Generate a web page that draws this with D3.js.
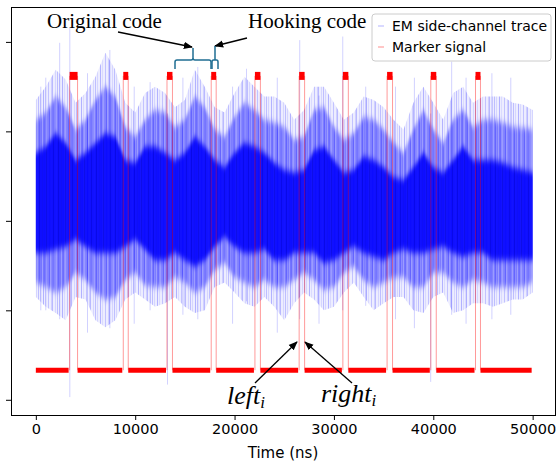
<!DOCTYPE html>
<html>
<head>
<meta charset="utf-8">
<script src="https://cdn.jsdelivr.net/npm/d3@7"></script>
<style>
  body { margin: 0; background: #fff; }
  svg { display: block; }
</style>
</head>
<body>
<div id="chart"></div>
<script>
// sample times of the trace envelope (ns), one every 1000 ns
var traceTimes = d3.range(0, 50001, 1000);
// envelope of the EM trace (arbitrary amplitude units)
var outerTop = [135,150,169,158,132,143,161,188,169,132,121,143,150,143,127,135,169,150,127,121,143,161,150,139,139,132,113,124,150,150,132,113,121,139,135,127,113,102,132,150,132,113,143,150,132,139,139,139,132,130,124];
var midTop = [113,121,139,127,102,113,135,150,139,105,94,113,124,121,105,113,139,127,102,94,116,132,124,113,110,105,91,94,124,127,105,91,98,116,113,102,87,76,102,124,102,87,113,124,105,113,113,110,105,104,102];
var coreTop = [76,83,98,87,68,76,87,98,94,68,65,83,83,76,68,76,94,83,68,60,76,87,83,76,65,57,54,57,79,83,68,54,57,72,68,60,49,46,60,76,60,54,68,83,68,68,68,65,60,57,54];
var coreBot = [-36,-36,-32,-29,-21,-29,-36,-36,-36,-29,-21,-32,-44,-44,-36,-44,-51,-44,-29,-18,-29,-36,-36,-32,-44,-44,-36,-36,-36,-47,-44,-36,-29,-36,-40,-44,-36,-32,-36,-36,-32,-29,-36,-40,-36,-36,-44,-44,-44,-44,-44];
var midBot = [-69,-74,-80,-74,-58,-66,-80,-88,-85,-66,-58,-72,-74,-74,-63,-69,-80,-74,-55,-47,-63,-69,-74,-66,-74,-74,-66,-58,-66,-77,-74,-58,-51,-66,-74,-69,-63,-63,-74,-74,-58,-58,-69,-74,-66,-69,-74,-74,-74,-74,-69];
var outerBot = [-85,-96,-103,-111,-85,-88,-111,-119,-111,-88,-80,-88,-96,-92,-85,-96,-103,-100,-74,-69,-80,-92,-96,-85,-96,-111,-92,-80,-88,-100,-96,-80,-69,-85,-100,-92,-85,-85,-100,-103,-85,-80,-103,-100,-92,-92,-96,-92,-88,-88,-80];
// isolated spikes of the trace
var spikeTimes = [500, 1000, 2400, 3420, 5200, 7450, 9900, 11500, 13250, 14800, 16300, 19800, 21200, 24300, 26560, 28500, 30890, 33200, 36200, 38100, 39740, 41850, 43300, 45900, 47800];
var spikeHigh = [150, 160, 199, 216, 165, 191, 150, 155, 120, 160, 172, 150, 170, 160, 202, 140, 206, 150, 150, 160, 120, 178, 160, 165, 160];
var spikeLow = [-100, -100, -110, -197, -125, -120, -115, -100, -183, -105, -110, -115, -90, -125, -110, -115, -100, -95, -110, -120, -180, -105, -115, -110, -105];

// marker signal
var markerLow = -167;
var markerHigh = 162;
var pulseStart = [3400, 8800, 13200, 17650, 22050, 26500, 30900, 35350, 39750, 44250];
var pulseEnd = [4200, 9300, 13750, 18150, 22600, 27050, 31450, 35900, 40300, 44750];

var xTicks = [0, 10000, 20000, 30000, 40000, 50000];
var yTicks = [-200, -100, 0, 100, 200];

var W = 557, H = 464;
var svg = d3.select("#chart").append("svg")
  .attr("width", W).attr("height", H)
  .style("font-family", "'DejaVu Sans', sans-serif");
var defs = svg.append("defs");

var x = d3.scaleLinear().domain([-2500, 52250]).range([11, 555]);
var y = d3.scaleLinear().domain([-217, 239]).range([415, 7]);

// vertical hair-line textures so the bands look like a dense trace
function hairPattern(id, base, baseOp, lines) {
  var p = defs.append("pattern").attr("id", id).attr("patternUnits", "userSpaceOnUse")
    .attr("width", 19).attr("height", 40);
  p.append("rect").attr("width", 19).attr("height", 40).attr("fill", base).attr("fill-opacity", baseOp);
  lines.forEach(function(l) {
    p.append("rect").attr("x", l[0]).attr("y", 0).attr("width", 1).attr("height", 40)
      .attr("fill", l[1]).attr("fill-opacity", l[2]);
  });
}
hairPattern("hOuter", "#0000ff", 0.07, [[0, "#0000ff", 0.2], [2, "#0000ff", 0.1], [5, "#0000ff", 0.25],
  [7, "#0000ff", 0.08], [10, "#0000ff", 0.18], [13, "#0000ff", 0.12], [14, "#0000ff", 0.22], [17, "#0000ff", 0.1]]);
hairPattern("hMid", "#0000ff", 0.34, [[1, "#0000ff", 0.35], [3, "#0000ff", 0.2], [6, "#0000ff", 0.3],
  [9, "#0000ff", 0.15], [11, "#0000ff", 0.35], [15, "#0000ff", 0.25], [16, "#0000ff", 0.15]]);
hairPattern("hCore", "#0000ff", 0.88, [[1, "#0000b0", 0.3], [4, "#1010d0", 0.2], [8, "#0000a0", 0.25],
  [12, "#2020ff", 0.2], [15, "#0000b8", 0.3]]);

// soften the band edges vertically only, keeping the hair lines sharp
var blur = defs.append("filter").attr("id", "vblur")
  .attr("x", "-1%").attr("y", "-10%").attr("width", "102%").attr("height", "120%");
blur.append("feGaussianBlur").attr("stdDeviation", "0 3");

var plot = svg.append("g");

function band(top, bot) {
  return d3.area()
    .x(function(d, i) { return x(traceTimes[i]); })
    .y0(function(d, i) { return y(bot[i]); })
    .y1(function(d, i) { return y(top[i]); })(traceTimes);
}
plot.append("path").attr("d", band(outerTop, outerBot)).attr("fill", "url(#hOuter)");
plot.append("path").attr("d", band(midTop, midBot)).attr("fill", "url(#hMid)").attr("filter", "url(#vblur)");
plot.append("path").attr("d", band(coreTop, coreBot)).attr("fill", "url(#hCore)").attr("filter", "url(#vblur)");

plot.selectAll(".spike").data(spikeTimes).enter().append("line")
  .attr("class", "spike")
  .attr("x1", function(d) { return x(d); }).attr("x2", function(d) { return x(d); })
  .attr("y1", function(d, i) { return y(spikeHigh[i]); })
  .attr("y2", function(d, i) { return y(spikeLow[i]); })
  .attr("stroke", "#0000ff").attr("stroke-opacity", 0.18).attr("stroke-width", 1);

// marker signal: flat parts thick, transitions thin
var lowSegs = [];
var prev = 0;
pulseStart.forEach(function(s, i) {
  lowSegs.push([prev, s]);
  prev = pulseEnd[i];
});
lowSegs.push([prev, 50000]);

plot.selectAll(".edge").data(pulseStart.concat(pulseEnd)).enter().append("line")
  .attr("class", "edge")
  .attr("x1", function(d) { return x(d); }).attr("x2", function(d) { return x(d); })
  .attr("y1", y(markerLow)).attr("y2", y(markerHigh))
  .attr("stroke", "#ff0000").attr("stroke-opacity", 0.4).attr("stroke-width", 1);

plot.selectAll(".low").data(lowSegs).enter().append("line")
  .attr("class", "low")
  .attr("x1", function(d) { return x(d[0]); }).attr("x2", function(d) { return x(d[1]) - 1; })
  .attr("y1", y(markerLow)).attr("y2", y(markerLow))
  .attr("stroke", "#ff0000").attr("stroke-width", 5);

plot.selectAll(".high").data(pulseStart).enter().append("line")
  .attr("class", "high")
  .attr("x1", function(d) { return x(d); })
  .attr("x2", function(d, i) { return x(pulseEnd[i]); })
  .attr("y1", y(markerHigh)).attr("y2", y(markerHigh))
  .attr("stroke", "#ff0000").attr("stroke-width", 8);

// axes
var xAxis = svg.append("g")
  .attr("transform", "translate(0,415)")
  .call(d3.axisBottom(x).tickValues(xTicks).tickSize(5).tickPadding(4).tickFormat(d3.format("d")));
var yAxis = svg.append("g")
  .attr("transform", "translate(11,0)")
  .call(d3.axisLeft(y).tickValues(yTicks).tickSize(5).tickFormat(""));
[xAxis, yAxis].forEach(function(a) {
  a.select(".domain").remove();
  a.selectAll("line").attr("stroke", "#000").attr("stroke-width", 1);
});
xAxis.selectAll("text").attr("font-size", "14.5px").attr("fill", "#000")
  .attr("font-family", "'DejaVu Sans', sans-serif");

svg.append("rect").attr("x", 11.5).attr("y", 7.5).attr("width", 544).attr("height", 408)
  .attr("fill", "none").attr("stroke", "#000").attr("stroke-width", 1);

svg.append("text").attr("x", 283).attr("y", 458).attr("text-anchor", "middle")
  .attr("font-size", "15px").text("Time (ns)");

// legend
var lg = svg.append("g");
lg.append("rect").attr("x", 372).attr("y", 14).attr("width", 179).attr("height", 47)
  .attr("rx", 3).attr("fill", "#fff").attr("fill-opacity", 0.8)
  .attr("stroke", "#cccccc").attr("stroke-width", 1);
lg.append("line").attr("x1", 378).attr("x2", 384).attr("y1", 26).attr("y2", 26)
  .attr("stroke", "#0000ff").attr("stroke-opacity", 0.3);
lg.append("line").attr("x1", 378).attr("x2", 384).attr("y1", 47).attr("y2", 47)
  .attr("stroke", "#ff0000").attr("stroke-opacity", 0.45);
lg.append("text").attr("x", 392).attr("y", 31).attr("font-size", "14px").text("EM side-channel trace");
lg.append("text").attr("x", 392).attr("y", 52).attr("font-size", "14px").text("Marker signal");

// annotations
defs.append("marker").attr("id", "ah")
  .attr("viewBox", "0 0 10 10").attr("refX", 9).attr("refY", 5)
  .attr("markerWidth", 7).attr("markerHeight", 7).attr("orient", "auto")
  .append("path").attr("d", "M0,1 L10,5 L0,9 Z").attr("fill", "#000");

var serif = "'Liberation Serif', 'Times New Roman', serif";
svg.append("text").attr("x", 47).attr("y", 28).attr("font-family", serif)
  .attr("font-size", "21px").text("Original code");
svg.append("text").attr("x", 248).attr("y", 28).attr("font-family", serif)
  .attr("font-size", "21px").text("Hooking code");

function arrow(x1, y1, x2, y2) {
  svg.append("line").attr("x1", x1).attr("y1", y1).attr("x2", x2).attr("y2", y2)
    .attr("stroke", "#000").attr("stroke-width", 1.3).attr("marker-end", "url(#ah)");
}
arrow(118, 32, 192, 47);
arrow(247, 38, 215, 46);
arrow(255, 383, 297, 342);
arrow(352, 383, 305, 342);

// braces over the original / hooking code
var braceColor = "#1f6e93";
svg.append("path")
  .attr("d", "M175,69 L175,62 Q175,60 177,60 L191,60 Q193,60 193,58 L193,48 M193,58 Q193,60 195,60 L209,60 Q211,60 211,62 L211,69")
  .attr("fill", "none").attr("stroke", braceColor).attr("stroke-width", 1.5);
svg.append("path")
  .attr("d", "M212,69 L212,62 Q212,60 213.5,60 L215,60 L215,46 M215,60 L216.5,60 Q218,60 218,62 L218,69")
  .attr("fill", "none").attr("stroke", braceColor).attr("stroke-width", 1.5);

var mathL = svg.append("text").attr("x", 227).attr("y", 404).attr("font-family", serif)
  .attr("font-style", "italic").attr("font-size", "26px");
mathL.append("tspan").text("left");
mathL.append("tspan").attr("font-size", "17px").attr("dy", 4).text("i");
var mathR = svg.append("text").attr("x", 321).attr("y", 402).attr("font-family", serif)
  .attr("font-style", "italic").attr("font-size", "26px");
mathR.append("tspan").text("right");
mathR.append("tspan").attr("font-size", "17px").attr("dy", 4).text("i");
</script>
</body>
</html>
